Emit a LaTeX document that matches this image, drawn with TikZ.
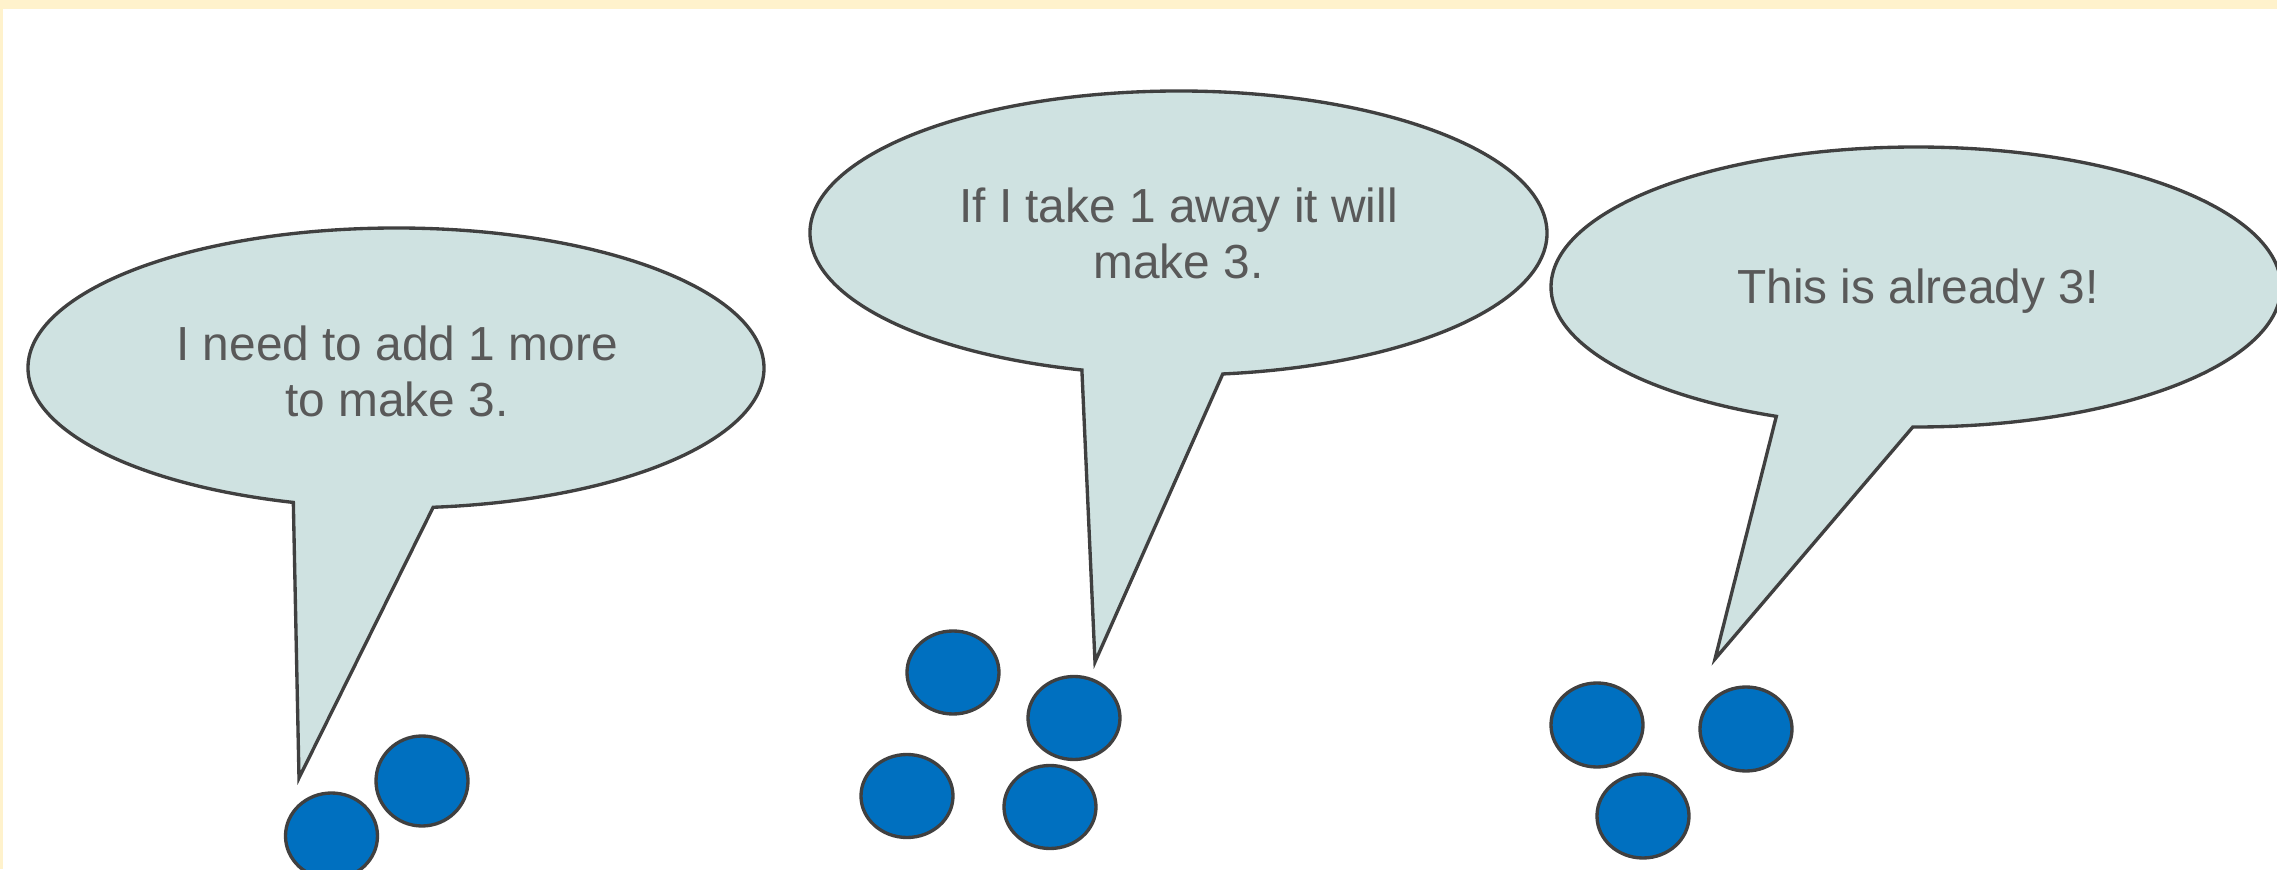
\documentclass[tikz,border=0pt]{standalone}
\usepackage{fontspec}
\setmainfont{Liberation Sans}
\definecolor{band}{HTML}{FFF2CC}
\definecolor{bubblefill}{HTML}{CFE2E1}
\definecolor{edge}{HTML}{404040}
\definecolor{chip}{HTML}{0070C0}
\definecolor{speech}{HTML}{595959}
\begin{document}
\begin{tikzpicture}[x=0.01cm,y=0.01cm,
  bubble/.style={fill=bubblefill, draw=edge, line width=0.95pt, line join=miter},
  counter/.style={fill=chip, draw=edge, line width=0.95pt},
  say/.style={text=speech, font=\fontsize{13.6}{16.3}\selectfont, inner sep=0pt, anchor=base}]
\useasboundingbox (0,0) rectangle (2277,869);
\clip (0,0) rectangle (2277,869);
% page background with the cream frame strips
\fill[white] (0,0) rectangle (2277,869);
\fill[band] (0,860) rectangle (2277,869);
\fill[band] (0,0) rectangle (3,869);

% speech bubble centres and tail tips
\coordinate (e1) at (396,501);
\coordinate (tip1) at (299,91);
\coordinate (e2) at (1178.5,636);
\coordinate (tip2) at (1095,207);
\coordinate (e3) at (1916,582);
\coordinate (tip3) at (1715,210);

% bubble 1
\draw[bubble] (e1) ++(275.8:368 and 140)
  arc[start angle=275.8, end angle=613.8, x radius=368, y radius=140]
  -- (tip1) -- cycle;
\node[say] (t1a) at (397,508) {I need to add 1 more};
\node[say] (t1b) at (397,452) {to make 3.};

% bubble 2
\draw[bubble] (e2) ++(276.9:368.5 and 142)
  arc[start angle=276.9, end angle=614.8, x radius=368.5, y radius=142]
  -- (tip2) -- cycle;
\node[say] (t2a) at (1178.5,646) {If I take 1 away it will};
\node[say] (t2b) at (1178.5,590) {make 3.};

% bubble 3
\draw[bubble] (e3) ++(269.5:365 and 140)
  arc[start angle=269.5, end angle=607.5, x radius=365, y radius=140]
  -- (tip3) -- cycle;
\node[say] (t3) at (1918,565) {This is already 3!};

% counters: two, four and three
\draw[counter] (422,88) ellipse[x radius=46, y radius=45];
\draw[counter] (331.5,33) ellipse[x radius=46, y radius=43];

\draw[counter] (953,196.5) ellipse[x radius=46, y radius=41.5];
\draw[counter] (1074,151) ellipse[x radius=46, y radius=41.5];
\draw[counter] (907,73) ellipse[x radius=46, y radius=41.5];
\draw[counter] (1050,62) ellipse[x radius=46, y radius=41.5];

\draw[counter] (1597,144) ellipse[x radius=46, y radius=42];
\draw[counter] (1746,140) ellipse[x radius=46, y radius=42];
\draw[counter] (1643,53) ellipse[x radius=46, y radius=42];
\end{tikzpicture}
\end{document}
